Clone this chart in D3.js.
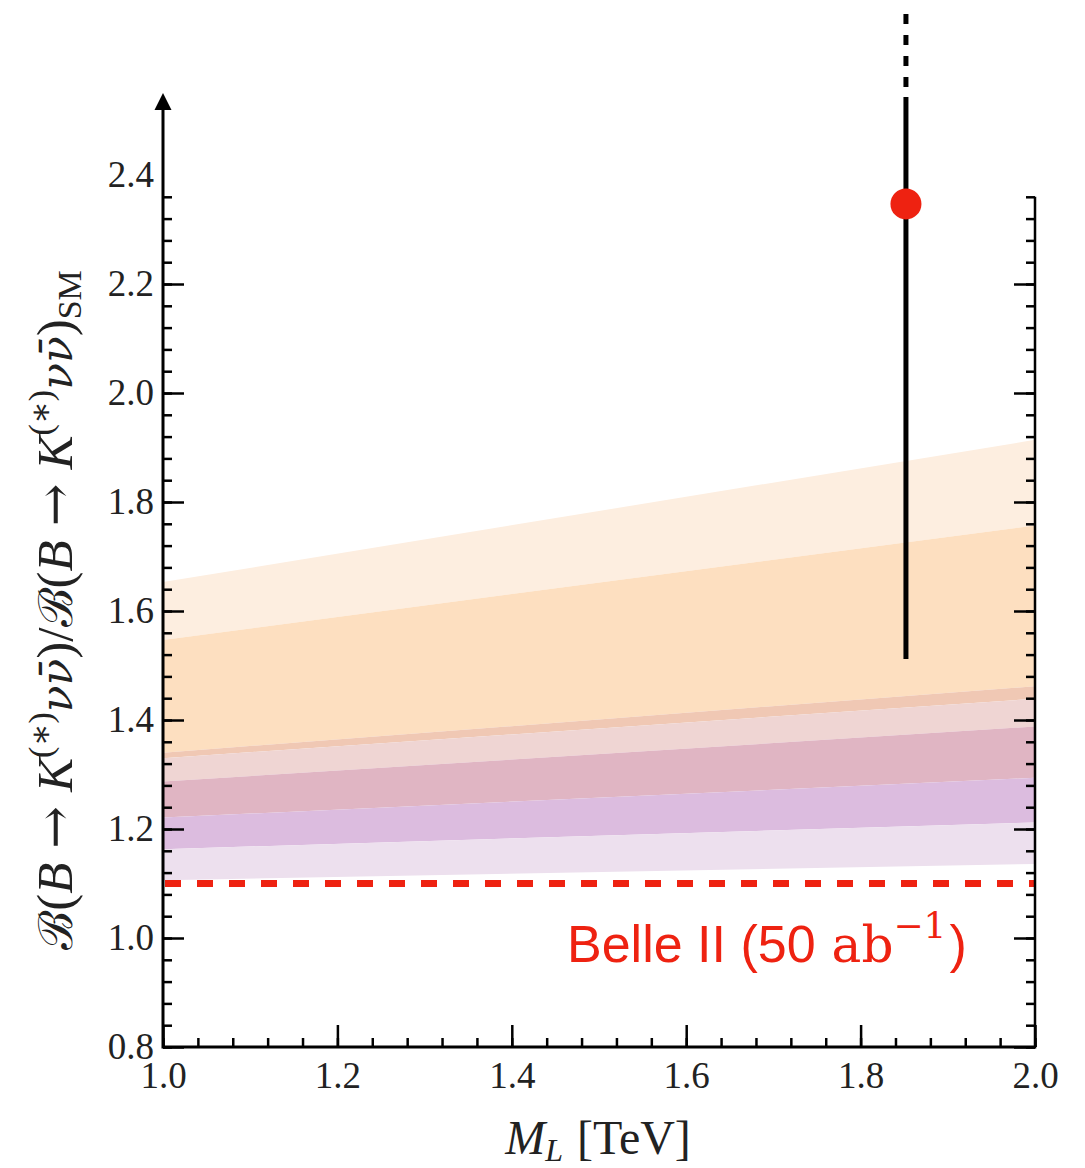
<!DOCTYPE html>
<html><head><meta charset="utf-8">
<script src="https://cdn.jsdelivr.net/npm/d3@7"></script>
<style>
html,body{margin:0;padding:0;background:#fff;}
svg{display:block;}
</style></head>
<body>
<svg id="chart" width="1085" height="1168"></svg>
<script>
// ---- data ----
const massTeV = [1.0, 2.0];                       // x positions of band edges
const boundaryAt1 = [1.653, 1.547, 1.340, 1.330, 1.287, 1.221, 1.163, 1.106];
const boundaryAt2 = [1.914, 1.757, 1.462, 1.439, 1.388, 1.294, 1.212, 1.136];
const bandColors = ["#fdeee0", "#fddfc0", "#f0c8b4", "#efd5d3", "#e0b5c3", "#dcbcdf", "#ede0ee"];
const pointX = 1.852, pointY = 2.347;
const errLow = 1.512, errHigh = 2.543, errDashedTop = 2.70;
const belleLimit = 1.10;
const xTicks = [1.0, 1.2, 1.4, 1.6, 1.8, 2.0];
const yTicks = [0.8, 1.0, 1.2, 1.4, 1.6, 1.8, 2.0, 2.2, 2.4];
const yDomain = [0.8, 2.36];

// ---- layout ----
const svg = d3.select("#chart");
const x = d3.scaleLinear().domain([1.0, 2.0]).range([163, 1035]);
const y = d3.scaleLinear().domain(yDomain).range([1047, 1047 - (yDomain[1] - yDomain[0]) * 545]);
const serif = "'Liberation Serif','DejaVu Serif',serif";
const dejavu = "'DejaVu Serif',serif";

// bands
for (let i = 0; i < bandColors.length; i++) {
  const pts = [
    [massTeV[0], boundaryAt1[i]], [massTeV[1], boundaryAt2[i]],
    [massTeV[1], boundaryAt2[i + 1]], [massTeV[0], boundaryAt1[i + 1]]
  ];
  svg.append("path")
    .attr("d", d3.line().x(d => x(d[0])).y(d => y(d[1]))(pts) + "Z")
    .attr("fill", bandColors[i]);
}

// Belle II dashed line
svg.append("line")
  .attr("x1", x(1.0) + 2).attr("x2", x(2.0))
  .attr("y1", y(belleLimit)).attr("y2", y(belleLimit))
  .attr("stroke", "#ee2211").attr("stroke-width", 7)
  .attr("stroke-dasharray", "16,16");

// minor ticks
const minorVals = d3.range(0, 40).map(i => +(0.8 + i * 0.04).toFixed(2)).filter(v => v <= 2.361);
const xMinor = d3.range(0, 26).map(i => +(1.0 + i * 0.04).toFixed(2));

function styleAxis(g) {
  g.select(".domain").remove();
  g.selectAll(".tick line").attr("stroke", "#000").attr("stroke-width", 2.5);
  g.selectAll("text").attr("font-family", serif).attr("font-size", 37).attr("fill", "#222");
}

// left axis
svg.append("g").attr("transform", `translate(${x(1.0)},0)`)
  .call(d3.axisLeft(y).tickValues(minorVals).tickSize(-9).tickFormat(""))
  .call(styleAxis);
const gl = svg.append("g").attr("transform", `translate(${x(1.0)},0)`)
  .call(d3.axisLeft(y).tickValues(yTicks).tickSize(-21).tickPadding(9).tickFormat(d3.format(".1f")))
  .call(styleAxis);
gl.selectAll(".tick").filter(d => d > yDomain[1]).select("line").remove();

// right axis
svg.append("g").attr("transform", `translate(${x(2.0)},0)`)
  .call(d3.axisRight(y).tickValues(minorVals).tickSize(-9).tickFormat(""))
  .call(styleAxis);
svg.append("g").attr("transform", `translate(${x(2.0)},0)`)
  .call(d3.axisRight(y).tickValues(yTicks.filter(v => v <= yDomain[1])).tickSize(-21).tickFormat(""))
  .call(styleAxis);

// bottom axis
svg.append("g").attr("transform", `translate(0,${y(0.8)})`)
  .call(d3.axisBottom(x).tickValues(xMinor).tickSize(-9).tickFormat(""))
  .call(styleAxis);
svg.append("g").attr("transform", `translate(0,${y(0.8)})`)
  .call(d3.axisBottom(x).tickValues(xTicks).tickSize(-22).tickPadding(15).tickFormat(d3.format(".1f")))
  .call(styleAxis);

// spines
svg.append("line").attr("x1", x(1.0)).attr("x2", x(2.0) + 1.25)
  .attr("y1", y(0.8)).attr("y2", y(0.8)).attr("stroke", "#000").attr("stroke-width", 2.8);
svg.append("line").attr("x1", x(2.0)).attr("x2", x(2.0))
  .attr("y1", y(0.8)).attr("y2", y(yDomain[1])).attr("stroke", "#000").attr("stroke-width", 2.5);
svg.append("line").attr("x1", x(1.0)).attr("x2", x(1.0))
  .attr("y1", y(0.8) + 1.4).attr("y2", 106).attr("stroke", "#000").attr("stroke-width", 3);
svg.append("path")
  .attr("d", `M${x(1.0)},93 L${x(1.0) - 8.5},110 L${x(1.0) + 8.5},110 Z`)
  .attr("fill", "#000");

// error bar
svg.append("line").attr("x1", x(pointX)).attr("x2", x(pointX))
  .attr("y1", y(errLow)).attr("y2", y(errHigh))
  .attr("stroke", "#000").attr("stroke-width", 5);
svg.append("line").attr("x1", x(pointX)).attr("x2", x(pointX))
  .attr("y1", y(errHigh) - 10).attr("y2", y(errDashedTop))
  .attr("stroke", "#000").attr("stroke-width", 5).attr("stroke-dasharray", "10,11");
svg.append("circle").attr("cx", x(pointX)).attr("cy", y(pointY)).attr("r", 15.5)
  .attr("fill", "#ee2211");

// Belle II label
const sans = "'Liberation Sans',Arial,sans-serif";
const bl = svg.append("text").attr("x", 567).attr("y", 962).attr("fill", "#ee2211")
  .attr("font-size", 52);
bl.append("tspan").attr("font-family", sans).text("Belle II (50");
bl.append("tspan").attr("font-family", dejavu).attr("font-size", 50).attr("dx", 16).text("ab");
bl.append("tspan").attr("font-family", dejavu).attr("font-size", 36).attr("dy", -24).text("−1");
bl.append("tspan").attr("font-family", sans).attr("dy", 24).attr("dx", 3).text(")");

// x title
const xt = svg.append("text").attr("x", 598).attr("y", 1154).attr("text-anchor", "middle")
  .attr("font-family", serif).attr("font-size", 48).attr("fill", "#222");
xt.append("tspan").attr("font-style", "italic").text("M");
xt.append("tspan").attr("font-style", "italic").attr("font-size", 32).attr("dy", 7).text("L");
xt.append("tspan").attr("dy", -7).attr("dx", 14).text("[TeV]");

// y title
const yt = svg.append("text").attr("transform", "translate(72,610) rotate(-90)")
  .attr("text-anchor", "middle").attr("font-family", serif).attr("font-size", 51).attr("fill", "#222");
function half(t) {
  t.append("tspan").attr("font-family", dejavu).attr("font-size", 47).text("ℬ");
  t.append("tspan").text("(");
  t.append("tspan").attr("font-style", "italic").text("B");
  t.append("tspan").attr("font-family", dejavu).attr("dx", 14).text("→");
  t.append("tspan").attr("font-style", "italic").attr("dx", 14).text("K");
  t.append("tspan").attr("font-size", 34).attr("dy", -20).text("(∗)");
  t.append("tspan").attr("font-family", dejavu).attr("font-style", "italic").attr("font-size", 44).attr("dy", 20).text("νν̄");
  t.append("tspan").text(")");
}
half(yt);
yt.append("tspan").text("/");
half(yt);
yt.append("tspan").attr("font-size", 34).attr("dy", 9).text("SM");
</script>
</body></html>
